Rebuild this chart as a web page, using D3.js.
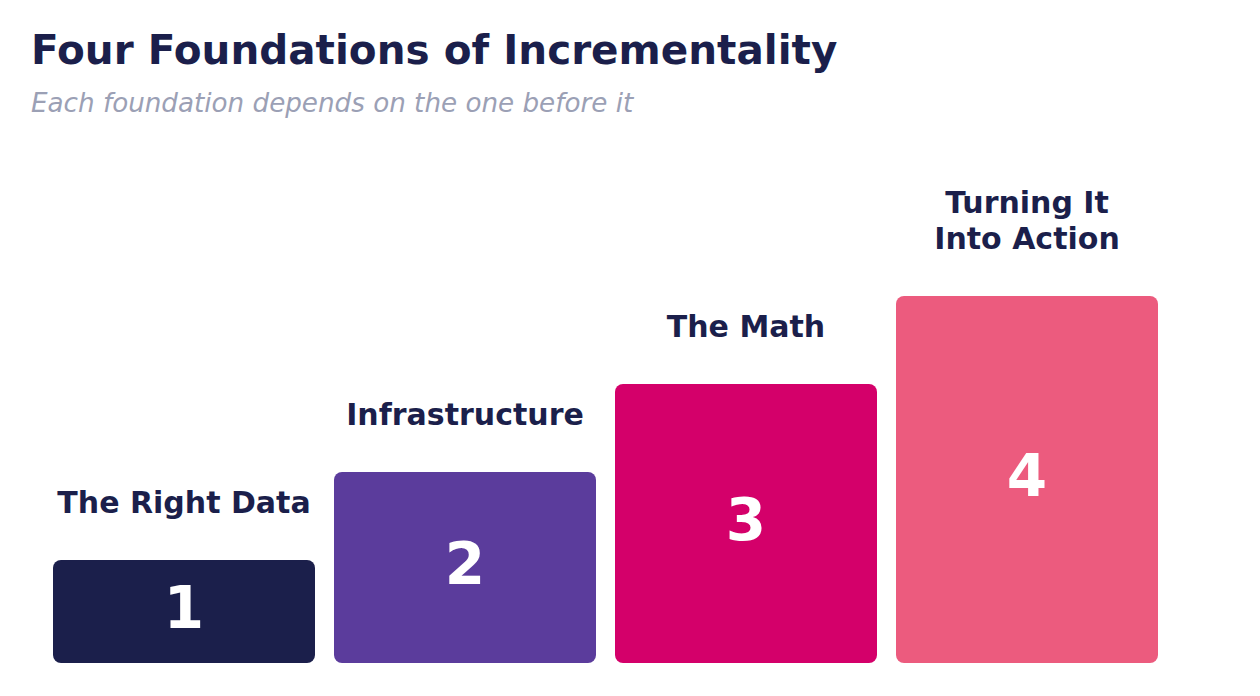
<!DOCTYPE html>
<html><head><meta charset="utf-8">
<script src="https://cdn.jsdelivr.net/npm/d3@7"></script>
<style>
html,body{margin:0;padding:0;background:#fff;}
svg{display:block;font-family:"DejaVu Sans",sans-serif;}
</style></head>
<body>
<svg id="chart" width="1260" height="696"></svg>
<script>
const categories = ["1", "2", "3", "4"];
const labels = [["The Right Data"], ["Infrastructure"], ["The Math"], ["Turning It", "Into Action"]];
const values = [1, 2, 3, 4];
const colors = ["#1B1F4B", "#5B3C9C", "#D4006A", "#EC5B7E"];

const svg = d3.select("#chart");
const baseline = 663;

svg.append("text").attr("x", 31).attr("y", 64)
  .attr("font-size", 40.5).attr("font-weight", "bold").attr("fill", "#1B1F4B")
  .text("Four Foundations of Incrementality");
svg.append("text").attr("x", 31).attr("y", 112)
  .attr("font-size", 26.2).attr("font-style", "italic").attr("fill", "#9BA0B5")
  .text("Each foundation depends on the one before it");

const x = d3.scaleBand().domain(categories).range([53, 1158]).paddingInner(19/281).paddingOuter(0);
const y = d3.scaleLinear().domain([-15/88, 4]).range([baseline, 296]);

const data = categories.map((c, i) => ({c, v: values[i], label: labels[i], color: colors[i]}));

const g = svg.append("g");
g.selectAll("rect").data(data).join("rect")
  .attr("x", d => x(d.c)).attr("width", x.bandwidth())
  .attr("y", d => y(d.v)).attr("height", d => baseline - y(d.v))
  .attr("rx", 8).attr("ry", 8).attr("fill", d => d.color);

g.selectAll("text.num").data(data).join("text").attr("class", "num")
  .attr("x", d => x(d.c) + x.bandwidth()/2)
  .attr("y", d => (y(d.v) + baseline)/2)
  .attr("dy", "0.29em")
  .attr("text-anchor", "middle").attr("font-size", 58).attr("font-weight", "bold")
  .attr("fill", "#fff").text(d => d.c);

g.selectAll("text.lab").data(data).join("text").attr("class", "lab")
  .attr("text-anchor", "middle").attr("font-size", 30).attr("font-weight", "bold")
  .attr("fill", "#1B1F4B")
  .each(function(d) {
    const t = d3.select(this);
    const n = d.label.length;
    d.label.forEach((line, j) => {
      t.append("tspan").attr("x", x(d.c) + x.bandwidth()/2)
        .attr("y", y(d.v) - 47 - (n - 1 - j) * 36)
        .text(line);
    });
  });
</script>
</body></html>
